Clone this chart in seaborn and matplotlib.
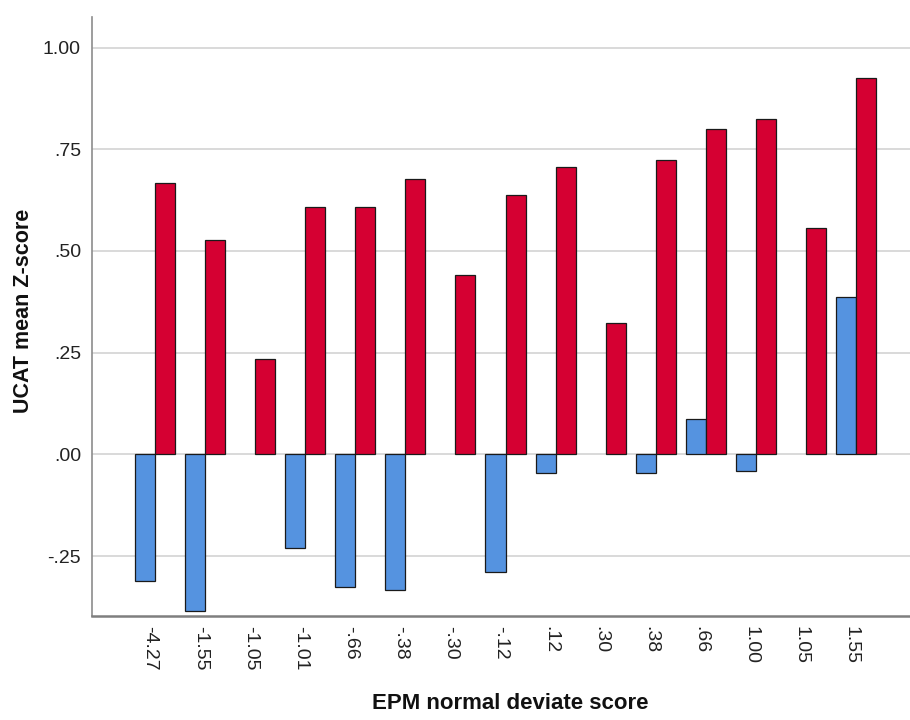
import numpy as np
import pandas as pd
import seaborn as sns
import matplotlib.pyplot as plt
from matplotlib.transforms import ScaledTranslation

# values (NaN = no bar drawn)
categories = ['-4.27', '-1.55', '-1.05', '-1.01', '-.66', '-.38', '-.30', '-.12',
              '.12', '.30', '.38', '.66', '1.00', '1.05', '1.55']
blue_vals = [-0.310, -0.385, np.nan, -0.229, -0.325, -0.332, np.nan, -0.289,
             -0.046, np.nan, -0.046, 0.086, -0.040, np.nan, 0.386]
red_vals = [0.666, 0.527, 0.235, 0.608, 0.609, 0.677, 0.440, 0.638,
            0.707, 0.324, 0.723, 0.799, 0.824, 0.557, 0.926]
series = ['Series 1', 'Series 2']
colors = ['#5593E0', '#D50032']
ytick_vals = [-0.25, 0.0, 0.25, 0.5, 0.75, 1.0]
ytick_labels = ['-.25', '.00', '.25', '.50', '.75', '1.00']

df = pd.DataFrame({
    'EPM': categories * 2,
    'group': [series[0]] * len(categories) + [series[1]] * len(categories),
    'z': blue_vals + red_vals,
})

sns.set_style('white')
plt.rcParams['font.family'] = ['Liberation Sans', 'DejaVu Sans']

fig = plt.figure(figsize=(9.1, 7.2), dpi=100)
ax = fig.add_axes([0.1011, 0.1444, 0.8989, 0.832])

sns.barplot(data=df, x='EPM', y='z', hue='group', order=categories,
            hue_order=series, palette=colors, saturation=1, errorbar=None,
            width=0.8, edgecolor='#1a1a1a', linewidth=0.9, legend=False, ax=ax)

ax.set_xlim(-1.26, 15.08)
ax.set_ylim(-0.397, 1.075)
ax.set_axisbelow(True)
ax.set_yticks(ytick_vals)
ax.set_yticklabels(ytick_labels, fontsize=14, color='#222222')
ax.yaxis.grid(True, color='#cfcfcf', linewidth=1.1)
ax.tick_params(axis='both', length=0)
ax.tick_params(axis='y', pad=8)
ax.tick_params(axis='x', pad=7)

ax.set_xticks(range(len(categories)))
ax.set_xticklabels(categories, rotation=270, fontsize=14, color='#222222')
shift = ScaledTranslation(-0.05, 0, fig.dpi_scale_trans)
for lab in ax.get_xticklabels():
    lab.set_transform(lab.get_transform() + shift)

for side in ['top', 'right']:
    ax.spines[side].set_visible(False)
ax.spines['left'].set_color('#8c8c8c')
ax.spines['left'].set_linewidth(1.2)
ax.spines['bottom'].set_color('#7f7f7f')
ax.spines['bottom'].set_linewidth(1.8)

ax.set_xlabel('EPM normal deviate score', fontsize=16, fontweight='bold', color='#111111')
ax.set_ylabel('UCAT mean Z-score', fontsize=15.5, fontweight='bold', color='#111111')
ax.xaxis.set_label_coords(0.511, -0.128)
ax.yaxis.set_label_coords(-0.071, 0.51)

plt.savefig('out.png', dpi=100)
